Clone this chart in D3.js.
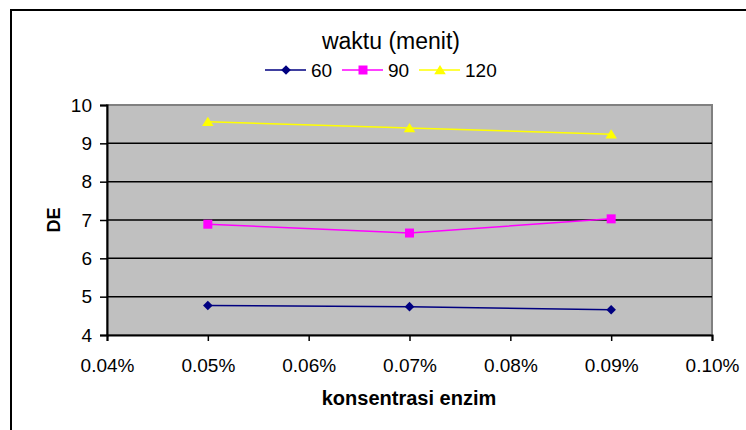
<!DOCTYPE html>
<html><head><meta charset="utf-8">
<script src="https://cdn.jsdelivr.net/npm/d3@7"></script>
<style>body{margin:0;background:#fff}svg{display:block}</style>
</head><body>
<svg id="c" width="746" height="430"></svg>
<script>
const xCats = [0.05, 0.07, 0.09];
const seriesNames = ["60", "90", "120"];
const s60 = [4.77, 4.74, 4.66];
const s90 = [6.89, 6.66, 7.03];
const s120 = [9.56, 9.40, 9.24];
const xTicks = [0.04, 0.05, 0.06, 0.07, 0.08, 0.09, 0.10];
const yTicks = [4, 5, 6, 7, 8, 9, 10];
const colors = ["#000080", "#FF00FF", "#FFFF00"];

// Excel-like marker shapes (size = half width in px)
const diamond = { draw(ctx, r) { ctx.moveTo(0, -r); ctx.lineTo(r, 0); ctx.lineTo(0, r); ctx.lineTo(-r, 0); ctx.closePath(); } };
const square = { draw(ctx, r) { ctx.rect(-r, -r, 2 * r, 2 * r); } };
const triangle = { draw(ctx, r) { ctx.moveTo(0, -r); ctx.lineTo(r * 1.15, r * 0.85); ctx.lineTo(-r * 1.15, r * 0.85); ctx.closePath(); } };
const symbols = [diamond, square, triangle];
const symR = [4.8, 4.5, 5];

const svg = d3.select("#c");
const font = "'Liberation Sans', Arial, sans-serif";

// outer chart border (cropped at right/bottom)
svg.append("rect").attr("x", 11).attr("y", 10).attr("width", 760).attr("height", 440)
  .attr("fill", "none").attr("stroke", "#000").attr("stroke-width", 2);

const x = d3.scaleLinear().domain([0.04, 0.10]).range([107, 712]);
const y = d3.scaleLinear().domain([4, 10]).range([335, 105]);

// plot area
svg.append("rect").attr("x", 107).attr("y", 105).attr("width", 605).attr("height", 230)
  .attr("fill", "#C0C0C0").attr("stroke", "#808080").attr("stroke-width", 2);

// gridlines
svg.append("g").selectAll("line").data(yTicks.filter(d => d > 4 && d < 10)).join("line")
  .attr("x1", 107).attr("x2", 712).attr("y1", d => y(d)).attr("y2", d => y(d))
  .attr("stroke", "#000").attr("stroke-width", 1.5);

// axes
const yAxis = d3.axisLeft(y).tickValues(yTicks).tickSize(7).tickPadding(8).tickFormat(d3.format("d"));
const gy = svg.append("g").attr("transform", "translate(107,0)").call(yAxis);
const xAxis = d3.axisBottom(x).tickValues(xTicks).tickSize(6).tickPadding(18)
  .tickFormat(d => d.toFixed(2) + "%");
const gx = svg.append("g").attr("transform", "translate(0,335)").call(xAxis);
[gx, gy].forEach(g => {
  g.select(".domain").attr("stroke", "#000").attr("stroke-width", 2);
  g.selectAll(".tick line").attr("stroke", "#000").attr("stroke-width", 1.5);
  g.selectAll("text").attr("font-family", font).attr("font-size", 19).attr("fill", "#000");
});

// series
const data = [s60, s90, s120];
const line = d3.line().x((d, i) => x(xCats[i])).y(d => y(d));
data.forEach((s, k) => {
  svg.append("path").datum(s).attr("d", line).attr("fill", "none")
    .attr("stroke", colors[k]).attr("stroke-width", 1.5);
  svg.append("g").selectAll("path").data(s).join("path")
    .attr("transform", (d, i) => `translate(${x(xCats[i])},${y(d)})`)
    .attr("d", d3.symbol().type(symbols[k]).size(symR[k]))
    .attr("fill", colors[k]);
});

// axis titles
svg.append("text").attr("x", 409).attr("y", 405).attr("text-anchor", "middle")
  .attr("font-family", font).attr("font-size", 20).attr("font-weight", "bold")
  .text("konsentrasi enzim");
svg.append("text").attr("transform", "translate(60,220) rotate(-90)").attr("text-anchor", "middle")
  .attr("font-family", font).attr("font-size", 18).attr("font-weight", "bold").text("DE");

// legend
svg.append("text").attr("x", 391).attr("y", 49).attr("text-anchor", "middle")
  .attr("font-family", font).attr("font-size", 23).text("waktu (menit)");
const legX = [265, 342, 419];
seriesNames.forEach((n, k) => {
  const g = svg.append("g").attr("transform", `translate(${legX[k]},70)`);
  g.append("line").attr("x1", 0).attr("x2", 41).attr("stroke", colors[k]).attr("stroke-width", 1.5);
  g.append("path").attr("transform", "translate(21,0)")
    .attr("d", d3.symbol().type(symbols[k]).size(symR[k])).attr("fill", colors[k]);
  g.append("text").attr("x", 46).attr("y", 7).attr("font-family", font).attr("font-size", 19).text(n);
});
</script>
</body></html>
